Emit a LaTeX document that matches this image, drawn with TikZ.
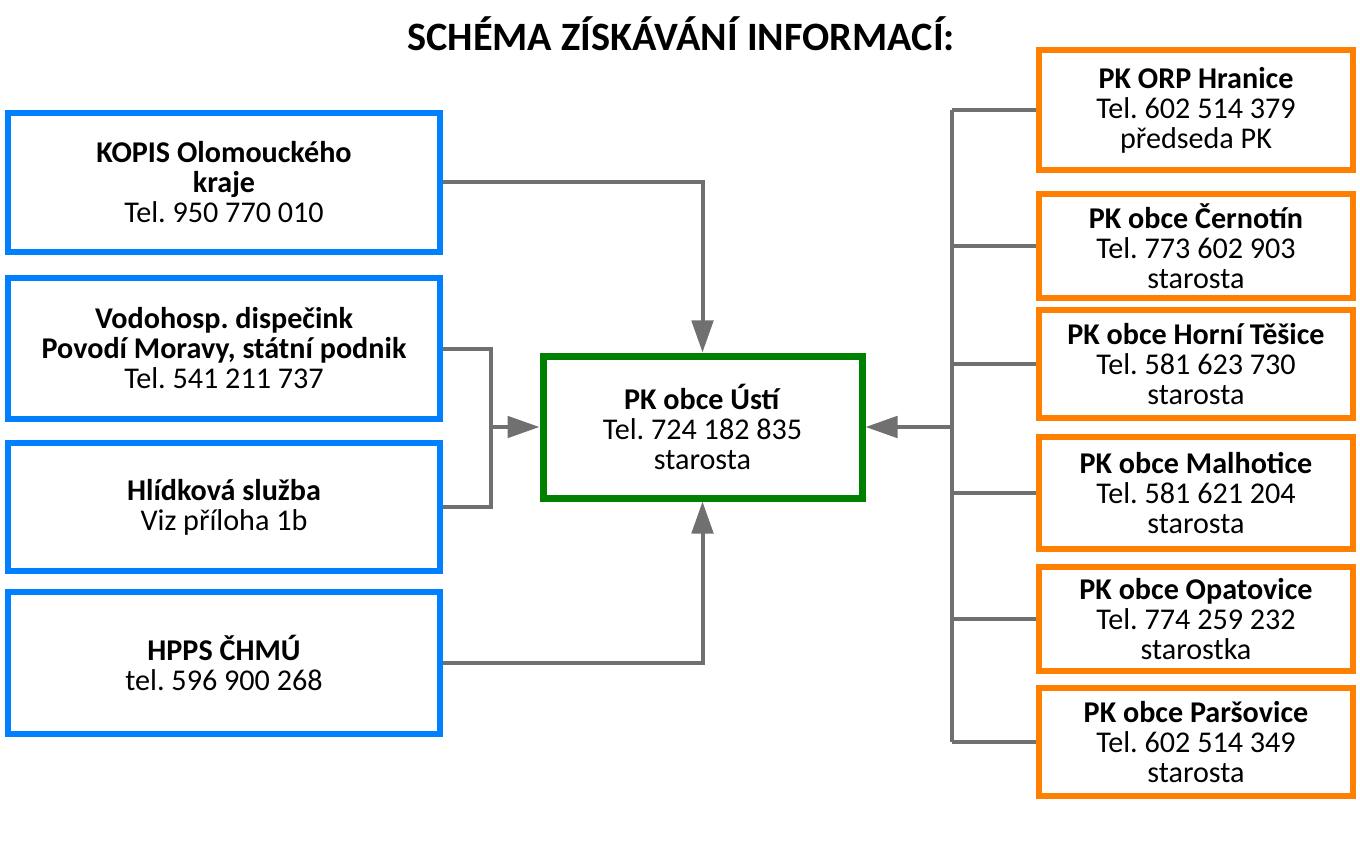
\documentclass[tikz,border=0pt]{standalone}
\usepackage{fontspec}
\setmainfont{Carlito}
\usetikzlibrary{arrows.meta}

\definecolor{boxblue}{RGB}{0,128,255}
\definecolor{boxgreen}{RGB}{0,128,0}
\definecolor{boxorange}{RGB}{255,128,0}
\definecolor{linegray}{RGB}{112,112,112}

\tikzset{every picture/.style={line width=0.75pt}}
\tikzset{
  infobox/.style={draw, fill=white, rectangle, inner sep=0pt, align=center,
    font=\fontsize{22.6}{22.5}\selectfont\frenchspacing},
  srcbox/.style={infobox, draw=boxblue, line width=4.5pt, minimum width=324pt},
  obecbox/.style={infobox, draw=boxorange, line width=4.5pt, minimum width=235.5pt},
  mainbox/.style={infobox, draw=boxgreen, line width=5.25pt, minimum width=239.25pt, minimum height=106.5pt},
  wire/.style={draw=linegray, line width=3pt},
  conn/.style={wire, -{Triangle[length=24pt,width=16pt]}}
}

\begin{document}
\begin{tikzpicture}[x=0.75pt,y=0.75pt,yscale=-1,xscale=1]
    \useasboundingbox (0,0) rectangle (1360,859);
    % Title
    \node (title) at (681,34) [font=\fontsize{30.2}{36}\selectfont\bfseries] {SCHÉMA ZÍSKÁVÁNÍ INFORMACÍ:};
    % Sources (left)
    \node (kopis) at (224,182.5) [srcbox, minimum height=104.25pt] {\textbf{KOPIS Olomouckého}\\\textbf{kraje}\\Tel. 950 770 010};
    \node (vodo) at (224,348.5) [srcbox, minimum height=105.75pt] {\textbf{Vodohosp. dispečink}\\\textbf{Povodí Moravy, státní podnik}\\Tel. 541 211 737};
    \node (hlid) at (224,507) [srcbox, minimum height=96pt] {\textbf{Hlídková služba}\\Viz příloha 1b};
    \node (hpps) at (224,663) [srcbox, minimum height=106.5pt] {\textbf{HPPS ČHMÚ}\\tel. 596 900 268};
    % Centre
    \node (usti) at (702.5,427) [mainbox] {\textbf{PK obce Ústí}\\Tel. 724 182 835\\starosta};
    % Municipalities (right)
    \node (hranice) at (1196,110) [obecbox, minimum height=90pt] {\textbf{PK ORP Hranice}\\Tel. 602 514 379\\předseda PK};
    \node (cerno) at (1196,246) [obecbox, minimum height=78pt] {\textbf{PK obce Černotín}\\Tel. 773 602 903\\starosta};
    \node (tesice) at (1196,364) [obecbox, minimum height=81pt] {\textbf{PK obce Horní Těšice}\\Tel. 581 623 730\\starosta};
    \node (malho) at (1196,493) [obecbox, minimum height=84pt] {\textbf{PK obce Malhotice}\\Tel. 581 621 204\\starosta};
    \node (opato) at (1196,619) [obecbox, minimum height=78pt] {\textbf{PK obce Opatovice}\\Tel. 774 259 232\\starostka};
    \node (parso) at (1196,742) [obecbox, minimum height=81pt] {\textbf{PK obce Paršovice}\\Tel. 602 514 349\\starosta};
    % Junctions
    \coordinate (lj) at (491,427);
    \coordinate (rj) at (952,427);
    % Connectors left
    \draw[conn] (kopis.east) -| (usti.north);
    \draw[wire] (vodo.east) -| (lj) |- (hlid.east);
    \draw[conn] (lj) -- (usti.west);
    \draw[conn] (hpps.east) -| (usti.south);
    % Connectors right
    \draw[wire] (rj |- hranice.west) -- (rj |- parso.west);
    \foreach \n in {hranice,cerno,tesice,malho,opato,parso}
      \draw[wire] (rj |- \n.west) -- (\n.west);
    \draw[conn] (rj) -- (usti.east);
\end{tikzpicture}
\end{document}
